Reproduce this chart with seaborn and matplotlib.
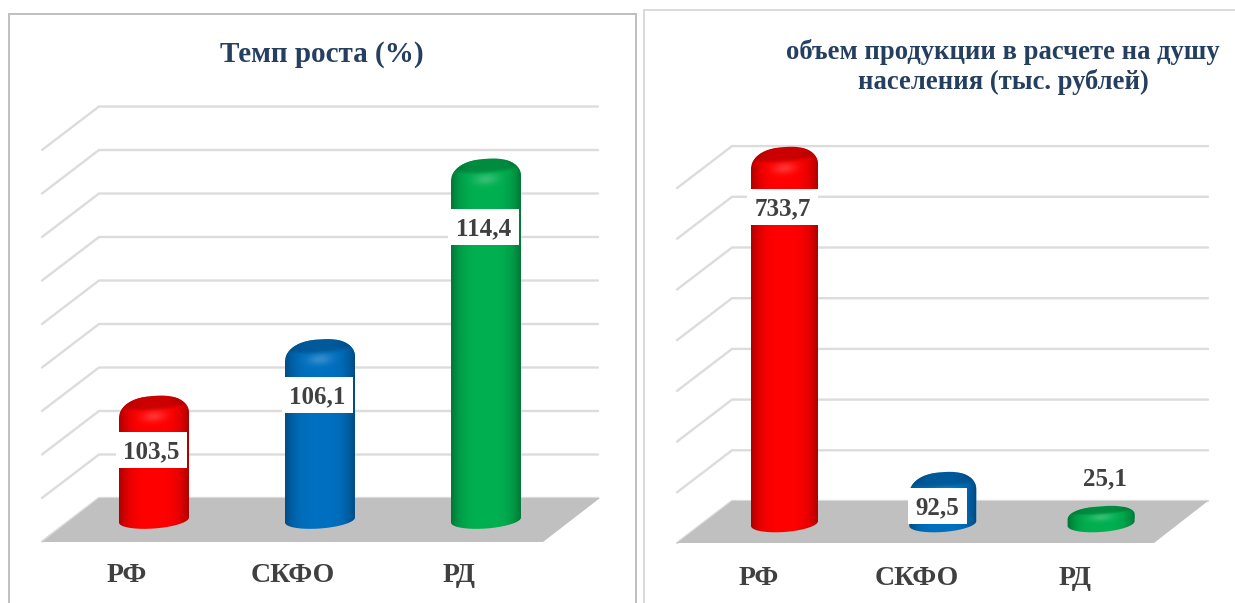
import numpy as np
import matplotlib
matplotlib.use("Agg")
import matplotlib.pyplot as plt
from matplotlib.patches import Polygon, Rectangle, PathPatch
from matplotlib.path import Path
from matplotlib.transforms import ScaledTranslation
import seaborn as sns

categories = ["РФ", "СКФО", "РД"]
growth_values = [103.5, 106.1, 114.4]
per_capita_values = [733.7, 92.5, 25.1]
growth_labels = ["103,5", "106,1", "114,4"]
per_capita_labels = ["733,7", "92,5", "25,1"]
growth_title = "Темп роста (%)"
per_capita_title = "объем продукции в расчете на душу\nнаселения (тыс. рублей)"
bar_colors = ["#ff0000", "#0070c0", "#00b050"]
growth_ticks = list(range(98, 118, 2))
per_capita_ticks = list(range(0, 800, 100))

W, H, DPI = 1235, 603, 100
sns.set_theme(style="white")
plt.rcParams["font.family"] = ["Liberation Serif", "DejaVu Serif"]
TEXT = "#404040"
TITLE = "#243f60"
GRID = "#dcdcdc"
FLOOR = "#c0c0c0"

fig = plt.figure(figsize=(W / DPI, H / DPI), dpi=DPI)


def px_axes(z):
    a = fig.add_axes([0, 0, 1, 1], zorder=z)
    a.set_xlim(0, W)
    a.set_ylim(H, 0)
    a.axis("off")
    a.patch.set_alpha(0)
    return a


bg = px_axes(0)
fg = px_axes(3)


def cylinder(color, x0, x1, y0, ybase):
    cx, hw = (x0 + x1) / 2, (x1 - x0) / 2
    slope = -2.5 / 35
    yc = ybase + 4.5
    b = 8.5
    h = min(20.0, 0.62 * (yc - y0))
    t = np.linspace(np.pi, 0, 80)
    c, s = np.cos(t), np.sin(t)
    xt = cx + hw * np.sign(c) * np.abs(c) ** 0.82
    yt = y0 + h - h * np.abs(s) ** 0.95 + slope * (xt - cx)
    tb = np.linspace(0, np.pi, 60)
    xb = cx + hw * np.cos(tb)
    yb = yc + b * np.sin(tb) + slope * (xb - cx)
    verts = np.vstack([np.c_[xt, yt], np.c_[xb, yb], [[xt[0], yt[0]]]])
    shape = Path(verts)
    ss = 3
    xs = np.linspace(x0 - 2, x1 + 2, int((x1 - x0 + 4) * ss))
    ys = np.linspace(y0 - 2, yc + b + 4, int((yc + b + 6 - y0) * ss))
    X, Y = np.meshgrid(xs, ys)
    rgb = np.array(matplotlib.colors.to_rgb(color))
    u = np.clip((X - cx) / hw, -1, 1)
    shade = 1 - 0.33 * np.abs(u) ** 3.5
    Yt = Y - slope * (X - cx)
    e = ((X - cx) / (hw * 0.95)) ** 2 + ((Yt - (y0 + h * 0.3)) / (h * 0.42)) ** 2
    cap = np.clip((1.5 - e) / 0.9, 0, 1)
    shade = shade * (1 - 0.2 * cap)
    img = shade[..., None] * rgb
    glow = 0.2 * np.exp(-((X - cx) / (hw * 0.34)) ** 2 - ((Yt - (y0 + h * 1.05)) / (h * 0.2 + 1.5)) ** 2)
    img = img + glow[..., None] * (1 - img)
    im = fg.imshow(np.clip(img, 0, 1), extent=(xs[0], xs[-1], ys[-1], ys[0]),
                   aspect="auto", zorder=1, interpolation="bilinear")
    clip = PathPatch(shape, transform=fg.transData, fc="none", ec="none")
    fg.add_patch(clip)
    im.set_clip_path(clip)
    return shape


def panel(values, labels, ticks, title, title_xy, title_size, x_c, spacing, bar_w,
          base_px, px_per_unit, ymin, ymax, wall, floor, tick_off, tick_pad, label_pos, boxed):
    left = x_c - spacing / 2
    width = spacing * 3
    bottom_px = base_px
    top_px = base_px - (ymax - ymin) * px_per_unit
    ax = fig.add_axes([left / W, 1 - bottom_px / H, width / W, (bottom_px - top_px) / H], zorder=1)
    ax.patch.set_alpha(0)
    sns.barplot(x=categories, y=values, hue=categories, palette=bar_colors, legend=False,
                width=bar_w / spacing, saturation=1, ax=ax)
    ax.set_xlim(-0.5, 2.5)
    ax.set_ylim(ymin, ymax)
    ax.set_yticks([])
    ax.set_xlabel("")
    ax.set_ylabel("")
    sns.despine(ax=ax, left=True, bottom=True)
    ax.tick_params(axis="x", length=0, pad=tick_pad, labelsize=20, labelcolor=TEXT)
    off = ScaledTranslation(tick_off / DPI, 0, fig.dpi_scale_trans)
    for lab in ax.get_xticklabels():
        lab.set_fontweight("bold")
        lab.set_transform(lab.get_transform() + off)

    lx, bx, rx, dy, shift = wall
    for tk in ticks:
        y = base_px - (tk - ymin) * px_per_unit - shift
        bg.plot([lx, bx, rx], [y + dy, y, y], color=GRID, lw=1.7, solid_joinstyle="miter", zorder=1)
    bg.add_patch(Polygon(floor, closed=True, fc=FLOOR, ec="none", zorder=2))

    bars = list(ax.containers[0]) if len(ax.containers) == 1 else [c[0] for c in ax.containers]
    fig.canvas.draw()
    for bar, col in zip(bars, bar_colors):
        (x0, ytop) = ax.transData.transform((bar.get_x(), bar.get_height()))
        (x1, _) = ax.transData.transform((bar.get_x() + bar.get_width(), 0))
        y0 = H - ytop
        shape = cylinder(col, x0, x1, y0, base_px)
        bar.set_clip_path(shape, fg.transData)

    for lab, (px, py), box in zip(labels, label_pos, boxed):
        if box:
            fg.add_patch(Rectangle((px - box / 2, py - 18), box, 36, fc="white", ec="none", zorder=4))
        fg.text(px, py - 1, lab, ha="center", va="center_baseline", fontsize=18, fontweight="bold",
                color=TEXT, zorder=5)
    fg.text(title_xy[0], title_xy[1], title, ha="center", va="center", fontsize=title_size,
            fontweight="bold", color=TITLE, linespacing=1.24, zorder=5)
    return ax


bg.add_patch(Rectangle((8.5, 13.5), 627, 640, fc="white", ec="#bfbfbf", lw=1.4, zorder=0))
bg.add_patch(Rectangle((643.5, 9.5), 640, 640, fc="white", ec="#d9d9d9", lw=1.4, zorder=0))

panel(growth_values, growth_labels, growth_ticks, growth_title, (322, 55), 21,
      154, 166, 70, 515.5, 21.75, 98, 120,
      wall=(42, 99, 598, 43.5, 17.5),
      floor=[(42, 542), (99, 498), (600, 498), (543, 542)],
      tick_off=-27, tick_pad=34, label_pos=[(151.5, 450), (317.5, 395), (483.5, 227)],
      boxed=[71, 71, 71])

panel(per_capita_values, per_capita_labels, per_capita_ticks, per_capita_title, (1003, 67), 19.2,
      784.5, 158.3, 67, 519, 0.507, 0, 800,
      wall=(677, 732, 1208, 42, 18),
      floor=[(677, 543), (732, 501), (1208, 501), (1154, 543)],
      tick_off=-26, tick_pad=33.5, label_pos=[(782.5, 207), (937.5, 506), (1105, 477)],
      boxed=[71, 59, 0])

for a in (bg, fg):
    a.set_xlim(0, W)
    a.set_ylim(H, 0)

fig.savefig("out.png", dpi=DPI)
